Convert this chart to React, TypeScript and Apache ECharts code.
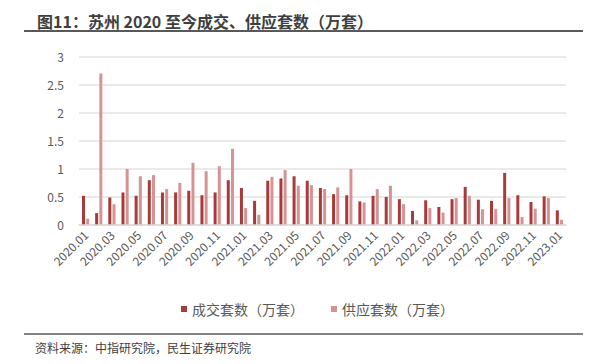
import React, { useEffect, useRef } from "react";
import * as echarts from "echarts";

const months: string[] = [
  "2020.01","2020.02","2020.03","2020.04","2020.05","2020.06","2020.07","2020.08","2020.09","2020.10","2020.11","2020.12",
  "2021.01","2021.02","2021.03","2021.04","2021.05","2021.06","2021.07","2021.08","2021.09","2021.10","2021.11","2021.12",
  "2022.01","2022.02","2022.03","2022.04","2022.05","2022.06","2022.07","2022.08","2022.09","2022.10","2022.11","2022.12",
  "2023.01",
];

const dealUnits: number[] = [
  0.51, 0.20, 0.48, 0.57, 0.51, 0.79, 0.57, 0.57, 0.60, 0.52, 0.57, 0.79,
  0.65, 0.42, 0.78, 0.82, 0.86, 0.78, 0.65, 0.54, 0.52, 0.41, 0.51, 0.49,
  0.45, 0.24, 0.43, 0.31, 0.45, 0.67, 0.44, 0.42, 0.92, 0.52, 0.40, 0.50,
  0.25,
];

const supplyUnits: number[] = [
  0.10, 2.70, 0.36, 0.99, 0.86, 0.88, 0.63, 0.74, 1.10, 0.95, 1.04, 1.35,
  0.29, 0.17, 0.85, 0.97, 0.69, 0.70, 0.63, 0.66, 0.99, 0.39, 0.63, 0.69,
  0.36, 0.07, 0.29, 0.21, 0.47, 0.51, 0.27, 0.27, 0.47, 0.13, 0.28, 0.47,
  0.08,
];

const seriesNames: string[] = ["成交套数（万套）", "供应套数（万套）"];
const titleText = "图11：苏州 2020 至今成交、供应套数（万套）";
const sourceText = "资料来源：中指研究院，民生证券研究院";

const FONT = "'Noto Sans CJK SC', 'Microsoft YaHei', sans-serif";

export default function App() {
  const ref = useRef<HTMLDivElement>(null);
  useEffect(() => {
    if (!ref.current) return;
    const chart = echarts.init(ref.current, undefined, { renderer: "svg" });
    chart.setOption({
      animation: false,
      textStyle: { fontFamily: FONT },
      title: {
        text: titleText,
        left: 32,
        top: 8,
        textStyle: { fontFamily: FONT, fontSize: 16, fontWeight: "bold", color: "#3f3f3f" },
      },
      graphic: [
        { type: "line", shape: { x1: 24, y1: 31, x2: 583, y2: 31 }, style: { stroke: "#595959", lineWidth: 2 } },
        { type: "line", shape: { x1: 24, y1: 334, x2: 583, y2: 334 }, style: { stroke: "#595959", lineWidth: 1.5 } },
        {
          type: "text",
          left: 35,
          top: 341,
          style: { text: sourceText, fontFamily: FONT, fontSize: 12, fill: "#404040" },
        },
      ],
      legend: {
        data: seriesNames,
        left: 176,
        top: 297,
        itemWidth: 6,
        itemHeight: 6,
        itemGap: 27,
        icon: "rect",
        textStyle: { fontFamily: FONT, fontSize: 14, color: "#595959" },
      },
      grid: { left: 79, right: 40, top: 56.7, bottom: 139.7, containLabel: false },
      xAxis: {
        type: "category",
        data: months,
        boundaryGap: true,
        axisLine: { show: true, lineStyle: { color: "#d9d9d9", width: 1.5 } },
        axisTick: { show: false },
        axisLabel: {
          interval: 1,
          rotate: 45,
          fontFamily: FONT,
          fontSize: 12,
          color: "#595959",
          margin: 8,
        },
      },
      yAxis: {
        type: "value",
        min: 0,
        max: 3,
        interval: 0.5,
        axisLine: { show: false },
        axisTick: { show: false },
        splitLine: { lineStyle: { color: "#e3e3e3", width: 1.5 } },
        axisLabel: { fontFamily: FONT, fontSize: 12, color: "#595959", margin: 15 },
      },
      series: [
        {
          name: seriesNames[0],
          type: "bar",
          data: dealUnits,
          barWidth: 3,
          barGap: "40%",
          itemStyle: { color: "#A83A3B" },
        },
        {
          name: seriesNames[1],
          type: "bar",
          data: supplyUnits,
          barWidth: 3,
          itemStyle: { color: "#D79394" },
        },
      ],
    });
    return () => chart.dispose();
  }, []);
  return <div ref={ref} style={{ width: 606, height: 364, position: "absolute", left: 0, top: 0 }} />;
}
